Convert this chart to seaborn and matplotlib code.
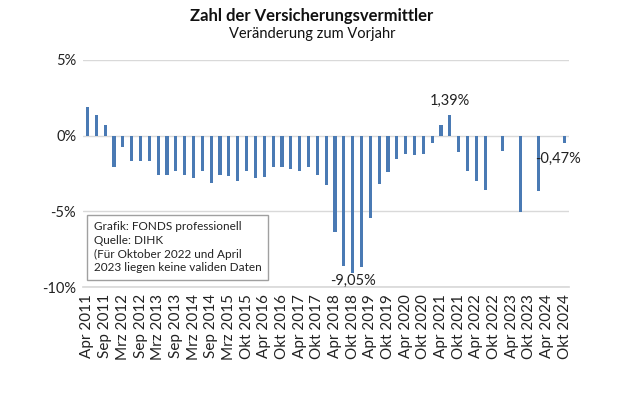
import matplotlib

matplotlib.use("Agg")
import matplotlib.pyplot as plt
import numpy as np
import pandas as pd
import seaborn as sns

# Stichtage (jeder zweite wird auf der Achse beschriftet)
perioden = [
    "Apr 2011", "Jul 2011", "Sep 2011", "Dez 2011", "Mrz 2012", "Jun 2012",
    "Sep 2012", "Dez 2012", "Mrz 2013", "Jun 2013", "Sep 2013", "Dez 2013",
    "Mrz 2014", "Jun 2014", "Sep 2014", "Dez 2014", "Mrz 2015", "Jul 2015",
    "Okt 2015", "Jan 2016", "Apr 2016", "Jul 2016", "Okt 2016", "Jan 2017",
    "Apr 2017", "Jul 2017", "Okt 2017", "Jan 2018", "Apr 2018", "Jul 2018",
    "Okt 2018", "Jan 2019", "Apr 2019", "Jul 2019", "Okt 2019", "Jan 2020",
    "Apr 2020", "Jul 2020", "Okt 2020", "Jan 2021", "Apr 2021", "Jul 2021",
    "Okt 2021", "Jan 2022", "Apr 2022", "Jul 2022", "Okt 2022", "Jan 2023",
    "Apr 2023", "Jul 2023", "Okt 2023", "Jan 2024", "Apr 2024", "Jul 2024",
    "Okt 2024",
]

# Veränderung zum Vorjahr in %, NaN = keine validen Daten
veraenderung = [
    1.88, 1.35, 0.71, -2.10, -0.77, -1.66, -1.66, -1.66, -2.57, -2.61,
    -2.35, -2.57, -2.79, -2.37, -3.10, -2.63, -2.68, -3.01, -2.32, -2.83,
    -2.72, -2.08, -2.08, -2.21, -2.37, -2.10, -2.59, -3.27, -6.35, -8.63,
    -9.05, -8.67, -5.42, -3.21, -2.41, -1.55, -1.19, -1.26, -1.19, -0.49,
    0.71, 1.39, -1.11, -2.31, -3.00, -3.60, np.nan, -1.02, np.nan, -5.03,
    np.nan, -3.68, np.nan, np.nan, -0.47,
]

# beschriftete Balken: (Index, Text, Versatz in Punkten)
beschriftungen = [(41, "1,39%", (0, 10)), (30, "-9,05%", (0, -6)), (54, "-0,47%", (-5, -12))]

hinweis = "Grafik: FONDS professionell\nQuelle: DIHK\n(Für Oktober 2022 und April\n2023 liegen keine validen Daten"

df = pd.DataFrame({"periode": perioden, "wert": veraenderung})

sns.set_theme(style="white")
plt.rcParams["font.family"] = ["Lato", "DejaVu Sans"]

fig = plt.figure(figsize=(6.2, 4.13), dpi=100)
ax = fig.add_axes([0.134, 0.305, 0.784, 0.55])

ax.yaxis.grid(True, color="#d9d9d9", linewidth=1)
ax.set_axisbelow(True)
sns.barplot(data=df, x="periode", y="wert", order=perioden, color="#4a7ab4",
            saturation=1, width=0.36, linewidth=0, ax=ax)

ax.set_xlim(-0.5, len(perioden) - 0.5)
ax.set_ylim(-10, 5)
ax.set_yticks([-10, -5, 0, 5])
ax.set_yticklabels(["-10%", "-5%", "0%", "5%"], fontsize=10.5, color="#222222")
ax.set_xticks(range(0, len(perioden), 2))
ax.set_xticklabels(perioden[::2], rotation=90, fontsize=11, color="#222222")
ax.tick_params(axis="both", length=0, pad=5)
ax.set_xlabel("")
ax.set_ylabel("")
for side in ["top", "right", "left"]:
    ax.spines[side].set_visible(False)
ax.spines["bottom"].set_color("#d9d9d9")

for idx, text, off in beschriftungen:
    ax.annotate(text, (idx, veraenderung[idx]), xytext=off, textcoords="offset points",
                ha="center", va="center", fontsize=10.5, color="#222222")

ax.text(0.022, 0.29, hinweis, transform=ax.transAxes, ha="left", va="top",
        fontsize=8.5, linespacing=1.3, color="#222222",
        bbox=dict(boxstyle="square,pad=0.55", facecolor="white", edgecolor="#a0a0a0", linewidth=1))

fig.text(0.503, 0.962, "Zahl der Versicherungsvermittler", ha="center", va="center",
         fontsize=12, fontweight="bold", color="#111111")
fig.text(0.503, 0.918, "Veränderung zum Vorjahr", ha="center", va="center",
         fontsize=10.5, color="#111111")

fig.savefig("out.png", dpi=100)
plt.close(fig)
